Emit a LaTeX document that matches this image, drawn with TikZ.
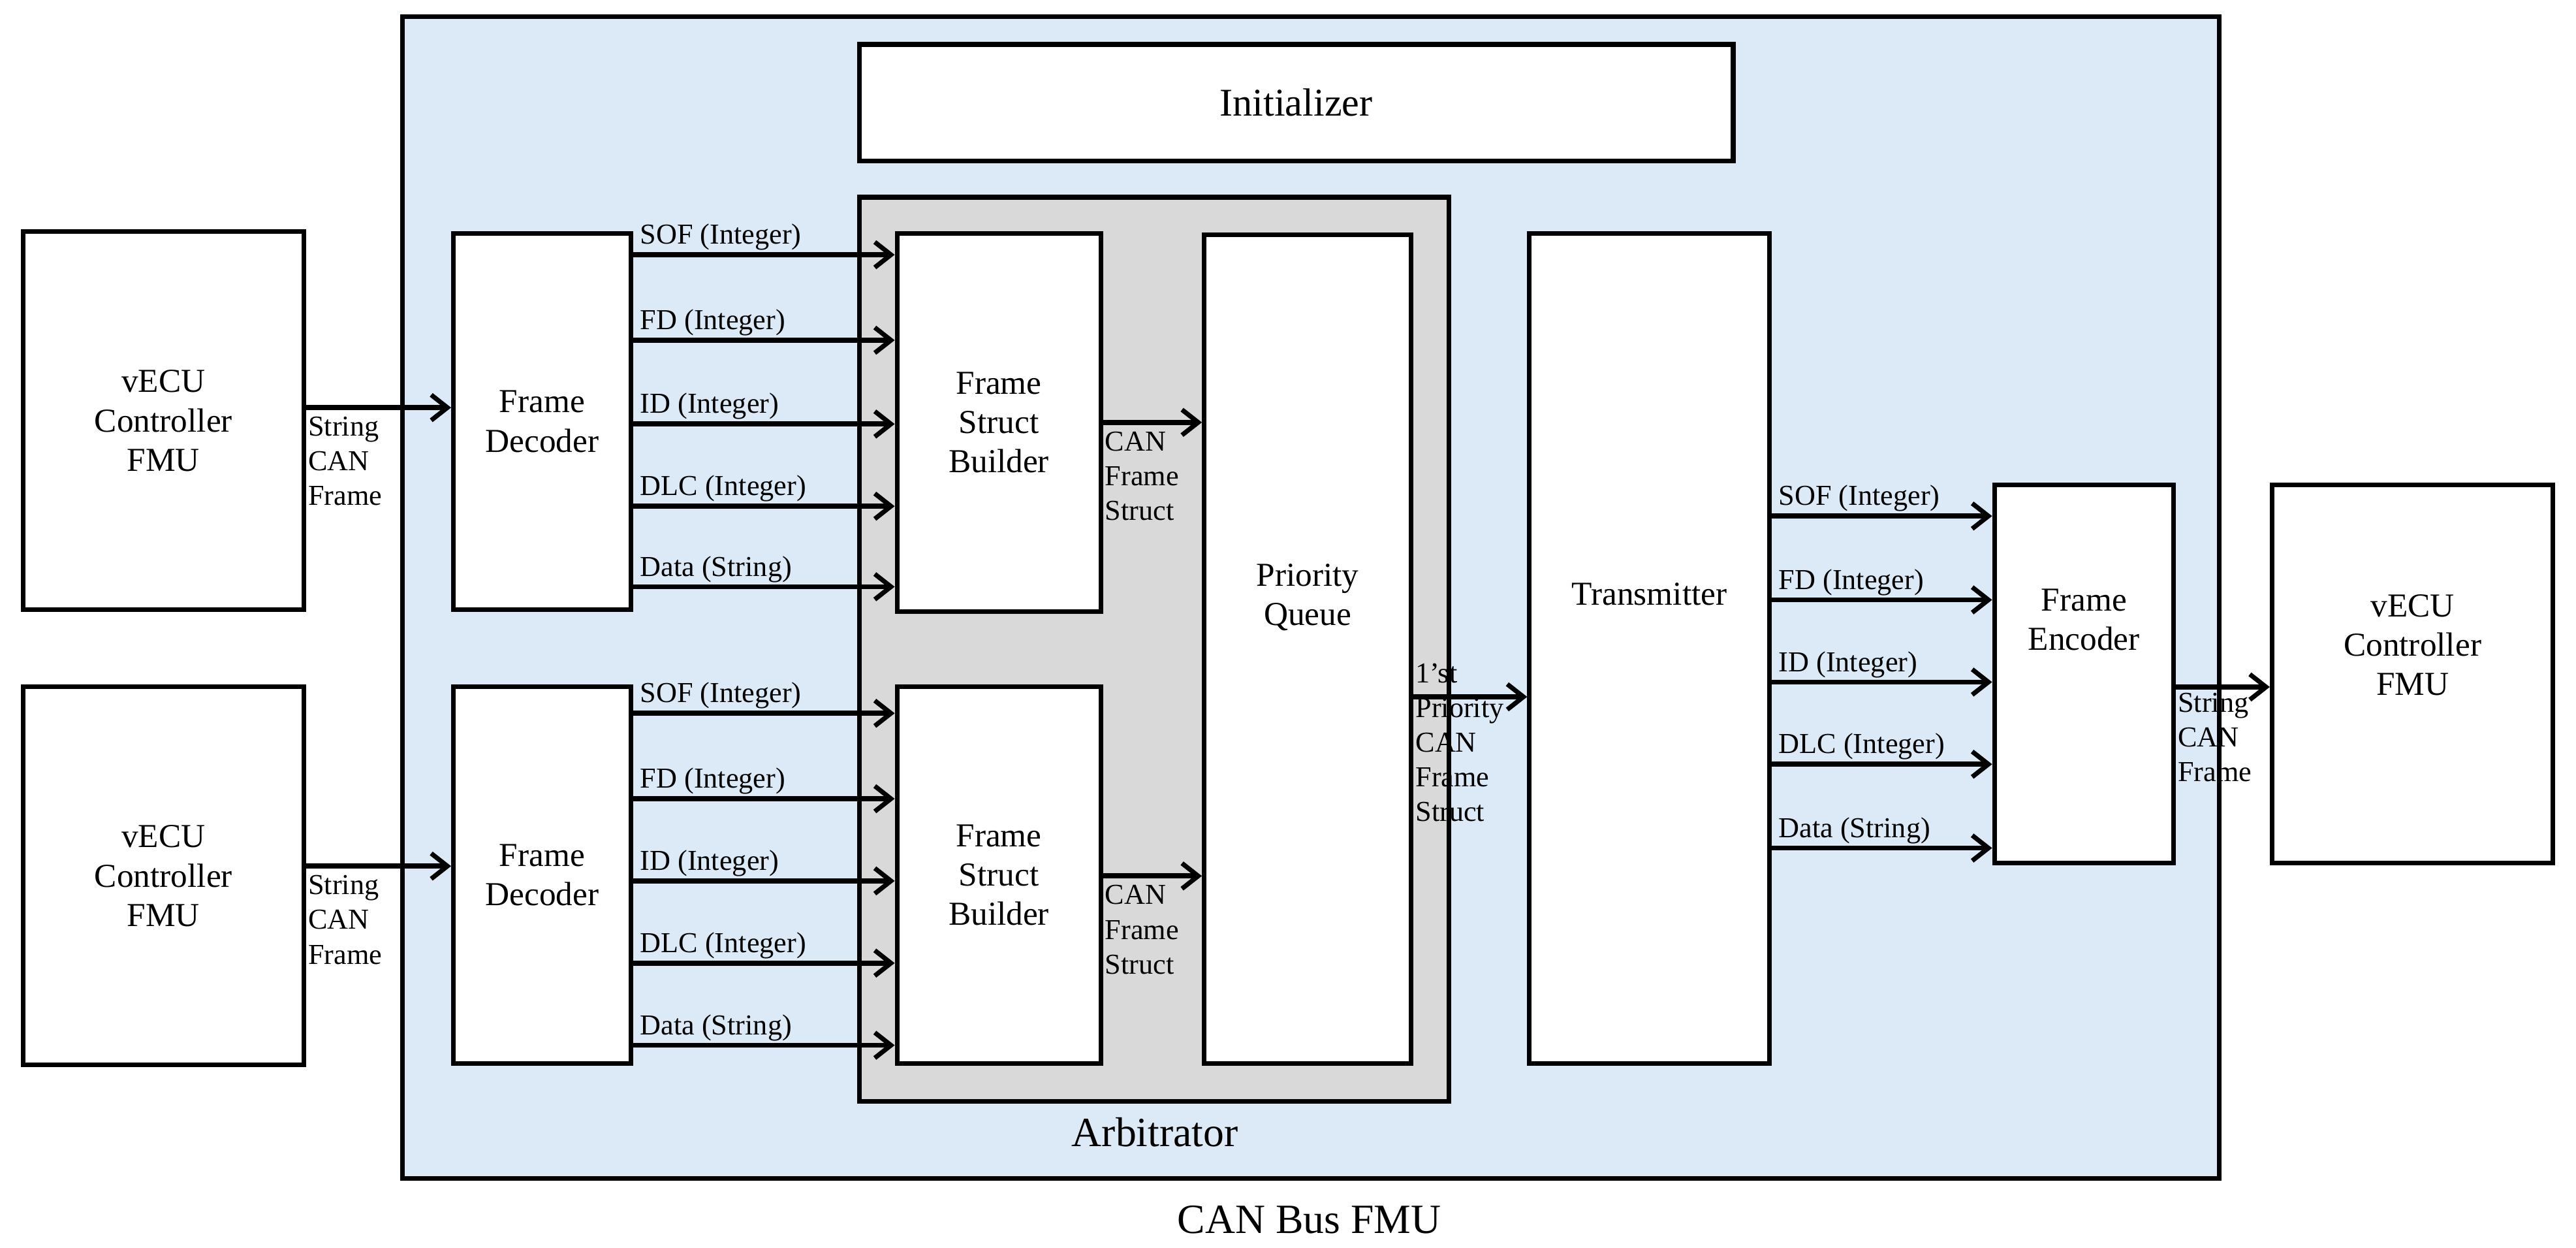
\documentclass[tikz,border=0pt]{standalone}
\usepackage{fontspec}
\setmainfont{Liberation Serif}
\usetikzlibrary{arrows.meta}
\definecolor{bluebg}{HTML}{DCE9F6}
\definecolor{graybg}{HTML}{D9D9D9}
\tikzset{
 box/.style={draw=black,line width=2pt,fill=white,inner sep=0pt,align=center,font=\fontsize{14.5}{17}\selectfont},
 arr/.style={line width=2.2pt,-{Straight Barb[length=7pt,width=11pt,line width=2pt]}},
 lbl/.style={font=\fontsize{12.5}{15}\selectfont,inner sep=1pt,align=left},
}
\newcommand\mybox[7][box]{\node[#1,minimum width={(#5-#3)*0.025cm},minimum height={(#6-#4)*0.025cm}] (#2) at ({(#3+#5)/2},{(#4+#6)/2}) {#7};}
\begin{document}
\begin{tikzpicture}[x=0.025cm,y=-0.025cm]
\useasboundingbox (0,0) rectangle (1568,759);
\mybox[box,fill=bluebg]{fmu}{245}{10}{1351}{717}{}
\mybox[box,fill=graybg]{arb}{523}{120}{882}{670}{}
\node[font=\fontsize{18}{20}\selectfont] (arbl) at (703,689) {Arbitrator};
\node[font=\fontsize{18}{20}\selectfont] (fmul) at (797,742) {CAN Bus FMU};
\mybox[box,font=\fontsize{17}{20}\selectfont]{init}{523}{27}{1055}{98}{Initializer}
\mybox{ve1}{14}{141}{185}{371}{vECU\\Controller\\FMU}
\mybox{ve2}{14}{418}{185}{648}{vECU\\Controller\\FMU}
\mybox{dec1}{276}{142}{384}{371}{Frame\\Decoder}
\mybox{dec2}{276}{418}{384}{647}{Frame\\Decoder}
\mybox{fsb1}{546}{142}{670}{372}{Frame\\Struct\\Builder}
\mybox{fsb2}{546}{418}{670}{647}{Frame\\Struct\\Builder}
\mybox{pq}{733}{143}{859}{647}{Priority\\Queue\\[30pt]}
\mybox{tx}{931}{142}{1077}{647}{Transmitter\\[30pt]}
\mybox{enc}{1214}{295}{1323}{525}{Frame\\Encoder\\[30pt]}
\mybox{ve3}{1383}{295}{1554}{525}{vECU\\Controller\\FMU\\[8pt]}
% inputs
\draw[arr] (ve1.east |- {0,248}) -- (dec1.west |- {0,248});
\node[lbl,anchor=north west] (s1) at (186,252) {String\\CAN\\Frame};
\draw[arr] (ve2.east |- {0,527}) -- (dec2.west |- {0,527});
\node[lbl,anchor=north west] (s2) at (186,531) {String\\CAN\\Frame};
% decoder to builder
\foreach \y/\t [count=\i] in {155/SOF (Integer),207/FD (Integer),258/ID (Integer),308/DLC (Integer),357/Data (String)}{
 \draw[arr] (dec1.east |- {0,\y}) -- (fsb1.west |- {0,\y});
 \node[lbl,anchor=south west] (la\i) at (388,\y-1) {\t};}
\foreach \y/\t [count=\i] in {434/SOF (Integer),486/FD (Integer),536/ID (Integer),586/DLC (Integer),636/Data (String)}{
 \draw[arr] (dec2.east |- {0,\y}) -- (fsb2.west |- {0,\y});
 \node[lbl,anchor=south west] (lb\i) at (388,\y-1) {\t};}
% builder to queue
\draw[arr] (fsb1.east |- {0,257}) -- (pq.west |- {0,257});
\node[lbl,anchor=north west] (c1) at (671,261) {CAN\\Frame\\Struct};
\draw[arr] (fsb2.east |- {0,533}) -- (pq.west |- {0,533});
\node[lbl,anchor=north west] (c2) at (671,537) {CAN\\Frame\\Struct};
% queue to transmitter
\draw[arr] (pq.east |- {0,424}) -- (tx.west |- {0,424});
\node[lbl,anchor=north west] (c3) at (860,402) {1’st\\Priority\\CAN\\Frame\\Struct};
% transmitter to encoder
\foreach \y/\t [count=\i] in {314/SOF (Integer),365/FD (Integer),415/ID (Integer),465/DLC (Integer),516/Data (String)}{
 \draw[arr] (tx.east |- {0,\y}) -- (enc.west |- {0,\y});
 \node[lbl,anchor=south west] (lc\i) at (1081,\y-1) {\t};}
\draw[arr] (enc.east |- {0,418}) -- (ve3.west |- {0,418});
\node[lbl,anchor=north west] (s3) at (1324,420) {String\\CAN\\Frame};
\end{tikzpicture}
\end{document}
